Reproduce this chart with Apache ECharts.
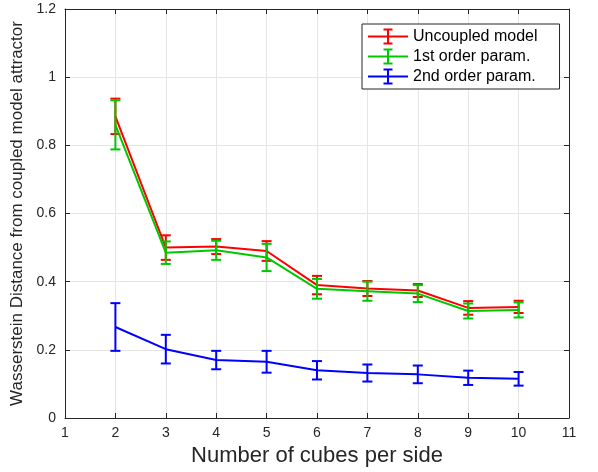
<!DOCTYPE html>
<html>
<head>
<meta charset="utf-8">
<script src="https://cdn.jsdelivr.net/npm/echarts@6/dist/echarts.min.js"></script>
<style>
html,body{margin:0;padding:0;background:#fff;}
#chart{width:598px;height:472px;}
</style>
</head>
<body>
<div id="chart"></div>
<script>
const cubesPerSide = [2, 3, 4, 5, 6, 7, 8, 9, 10];
const uncoupledMean = [0.885, 0.500, 0.503, 0.490, 0.390, 0.380, 0.374, 0.323, 0.326];
const uncoupledErr  = [0.052, 0.036, 0.022, 0.029, 0.027, 0.022, 0.019, 0.020, 0.018];
const firstOrderMean = [0.860, 0.485, 0.492, 0.471, 0.379, 0.372, 0.365, 0.314, 0.317];
const firstOrderErr  = [0.072, 0.033, 0.028, 0.040, 0.029, 0.028, 0.025, 0.022, 0.022];
const secondOrderMean = [0.267, 0.202, 0.170, 0.165, 0.140, 0.132, 0.128, 0.118, 0.115];
const secondOrderErr  = [0.070, 0.042, 0.027, 0.032, 0.027, 0.025, 0.026, 0.021, 0.020];
const seriesNames = ['Uncoupled model', '1st order param.', '2nd order param.'];
const seriesColors = ['#ff0000', '#00c800', '#0000ff'];

const means = [uncoupledMean, firstOrderMean, secondOrderMean];
const errs = [uncoupledErr, firstOrderErr, secondOrderErr];

const axisColor = '#262626';
const font = 'Liberation Sans, Arial, Helvetica, sans-serif';
const legendIcon = 'path://M0,7H40V9H0Z M19,1H21V15H19Z M15.5,0H24.5V2H15.5Z M15.5,14H24.5V16H15.5Z';

function errRender(color) {
  return function (params, api) {
    const x = api.value(0), m = api.value(1), e = api.value(2);
    const top = api.coord([x, m + e]);
    const bot = api.coord([x, m - e]);
    const hw = 5;
    const st = { stroke: color, lineWidth: 2 };
    return {
      type: 'group',
      children: [
        { type: 'line', shape: { x1: top[0], y1: top[1], x2: bot[0], y2: bot[1] }, style: st },
        { type: 'line', shape: { x1: top[0] - hw, y1: top[1], x2: top[0] + hw, y2: top[1] }, style: st },
        { type: 'line', shape: { x1: bot[0] - hw, y1: bot[1], x2: bot[0] + hw, y2: bot[1] }, style: st }
      ]
    };
  };
}

const series = [];
for (let k = 0; k < 3; k++) {
  series.push({
    name: seriesNames[k],
    type: 'line',
    xAxisIndex: 0, yAxisIndex: 0,
    data: cubesPerSide.map((x, i) => [x, means[k][i]]),
    symbol: 'none',
    lineStyle: { color: seriesColors[k], width: 2 },
    itemStyle: { color: seriesColors[k] },
    animation: false,
    z: 3 + k
  });
  series.push({
    name: seriesNames[k],
    type: 'custom',
    xAxisIndex: 0, yAxisIndex: 0,
    renderItem: errRender(seriesColors[k]),
    data: cubesPerSide.map((x, i) => [x, means[k][i], errs[k][i]]),
    encode: { x: 0, y: 1 },
    itemStyle: { color: seriesColors[k] },
    animation: false,
    z: 3 + k
  });
}

const chart = echarts.init(document.getElementById('chart'), null, { renderer: 'canvas' });
chart.setOption({
  backgroundColor: '#ffffff',
  animation: false,
  grid: { left: 65, right: 29, top: 9, bottom: 54, containLabel: false },
  legend: {
    data: seriesNames.map((n, k) => ({ name: n, icon: legendIcon, itemStyle: { color: seriesColors[k] } })),
    orient: 'vertical',
    left: 362, top: 24,
    itemWidth: 40, itemHeight: 16, itemGap: 4,
    padding: [4.5, 22, 4.5, 6],
    borderColor: axisColor, borderWidth: 1,
    backgroundColor: '#ffffff',
    selectedMode: false,
    textStyle: { fontFamily: font, fontSize: 16, color: '#000000' }
  },
  xAxis: [
    {
      type: 'value', min: 1, max: 11, interval: 1, position: 'bottom',
      name: 'Number of cubes per side', nameLocation: 'middle', nameGap: 26,
      nameTextStyle: { fontFamily: font, fontSize: 22, color: axisColor },
      axisLine: { show: true, onZero: false, lineStyle: { color: axisColor, width: 1 } },
      axisTick: { show: true, inside: true, length: 5, lineStyle: { color: axisColor } },
      axisLabel: { fontFamily: font, fontSize: 14, color: axisColor, margin: 8 },
      splitLine: { show: true, lineStyle: { color: '#e5e5e5', width: 1 } }
    },
    {
      type: 'value', min: 1, max: 11, interval: 1, position: 'top',
      axisLine: { show: true, onZero: false, lineStyle: { color: axisColor, width: 1 } },
      axisTick: { show: true, inside: true, length: 5, lineStyle: { color: axisColor } },
      axisLabel: { show: false },
      splitLine: { show: false }
    }
  ],
  yAxis: [
    {
      type: 'value', min: 0, max: 1.2, interval: 0.2, position: 'left',
      name: 'Wasserstein Distance from coupled model attractor', nameLocation: 'middle', nameGap: 31,
      nameRotate: 90,
      nameTextStyle: { fontFamily: font, fontSize: 17, color: axisColor },
      axisLine: { show: true, onZero: false, lineStyle: { color: axisColor, width: 1 } },
      axisTick: { show: true, inside: true, length: 5, lineStyle: { color: axisColor } },
      axisLabel: { fontFamily: font, fontSize: 14, color: axisColor, margin: 9 },
      splitLine: { show: true, lineStyle: { color: '#e5e5e5', width: 1 } }
    },
    {
      type: 'value', min: 0, max: 1.2, interval: 0.2, position: 'right',
      axisLine: { show: true, onZero: false, lineStyle: { color: axisColor, width: 1 } },
      axisTick: { show: true, inside: true, length: 5, lineStyle: { color: axisColor } },
      axisLabel: { show: false },
      splitLine: { show: false }
    }
  ],
  series: series
});
</script>
</body>
</html>
